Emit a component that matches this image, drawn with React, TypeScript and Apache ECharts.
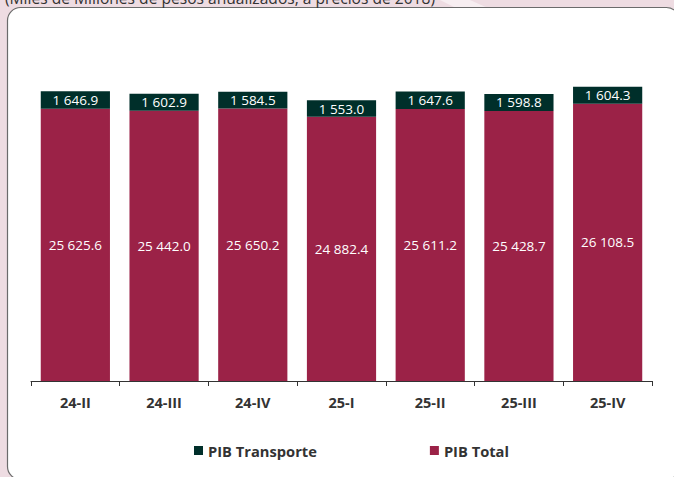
import React, { useEffect, useRef } from "react";
import * as echarts from "echarts";

const categories = ["24-II", "24-III", "24-IV", "25-I", "25-II", "25-III", "25-IV"];
const pibTotal = [25625.6, 25442.0, 25650.2, 24882.4, 25611.2, 25428.7, 26108.5];
const pibTransporte = [1646.9, 1602.9, 1584.5, 1553.0, 1647.6, 1598.8, 1604.3];
const subtitle = "(Miles de Millones de pesos anualizados, a precios de 2018)";

const fmt = (v: number) => {
  const [i, d] = v.toFixed(1).split(".");
  return i.replace(/\B(?=(\d{3})+(?!\d))/g, " ") + "." + d;
};

const FONT = "'Open Sans', 'Noto Sans', sans-serif";

export default function App() {
  const ref = useRef<HTMLDivElement>(null);
  useEffect(() => {
    document.body.style.margin = "0";
    const chart = echarts.init(ref.current!, null, { renderer: "svg" });
    chart.setOption({
      animation: false,
      backgroundColor: "#ffffff",
      graphic: [
        { type: "rect", shape: { x: 0, y: 0, width: 674, height: 477 }, style: { fill: "#EEDCE2" }, z: -10, silent: true },
        { type: "polygon", shape: { points: [[440, 0], [470, 0], [560, 40], [520, 40]] }, style: { fill: "#F7EEF1" }, z: -9, silent: true },
        { type: "polygon", shape: { points: [[600, 477], [674, 400], [674, 477]] }, style: { fill: "#ffffff" }, z: -9, silent: true },
        {
          type: "rect",
          shape: { x: 7.5, y: 7.5, width: 672, height: 472, r: 13 },
          style: { fill: "#ffffff", stroke: "#6b6b6b", lineWidth: 1.2 },
          z: -5,
          silent: true,
        },
        {
          type: "text",
          x: 5,
          y: -10,
          style: { text: subtitle, fill: "#333333", font: `15.6px ${FONT}` },
          silent: true,
        },
      ],
      grid: { left: 31, right: 22, top: 62.4, bottom: 96 },
      legend: {
        data: ["PIB Transporte", "PIB Total"],
        left: 189,
        top: 438,
        icon: "rect",
        itemWidth: 9,
        itemHeight: 9,
        itemGap: 113,
        textStyle: { fontFamily: FONT, fontWeight: "bold", fontSize: 14.7, color: "#333333" },
      },
      xAxis: {
        type: "category",
        data: categories,
        axisLine: { lineStyle: { color: "#333333", width: 1 } },
        axisTick: { show: true, length: 5, lineStyle: { color: "#333333" } },
        axisLabel: { fontFamily: FONT, fontWeight: "bold", fontSize: 14.5, color: "#333333", margin: 14 },
      },
      yAxis: {
        type: "value",
        min: 0,
        max: 30000,
        show: false,
        splitLine: { show: false },
      },
      series: [
        {
          name: "PIB Total",
          type: "bar",
          stack: "pib",
          data: pibTotal,
          barCategoryGap: "22%",
          itemStyle: { color: "#9B2247" },
          label: {
            show: true,
            position: "inside",
            color: "#ffffff",
            fontFamily: FONT,
            fontSize: 13.5,
            formatter: (p: any) => fmt(p.value),
          },
        },
        {
          name: "PIB Transporte",
          type: "bar",
          stack: "pib",
          data: pibTransporte,
          barCategoryGap: "22%",
          itemStyle: { color: "#002F2A" },
          label: {
            show: true,
            position: "inside",
            color: "#ffffff",
            fontFamily: FONT,
            fontSize: 13.5,
            formatter: (p: any) => fmt(p.value),
          },
        },
      ],
    });
    return () => chart.dispose();
  }, []);
  return <div ref={ref} style={{ width: 674, height: 477, position: "absolute", left: 0, top: 0 }} />;
}
